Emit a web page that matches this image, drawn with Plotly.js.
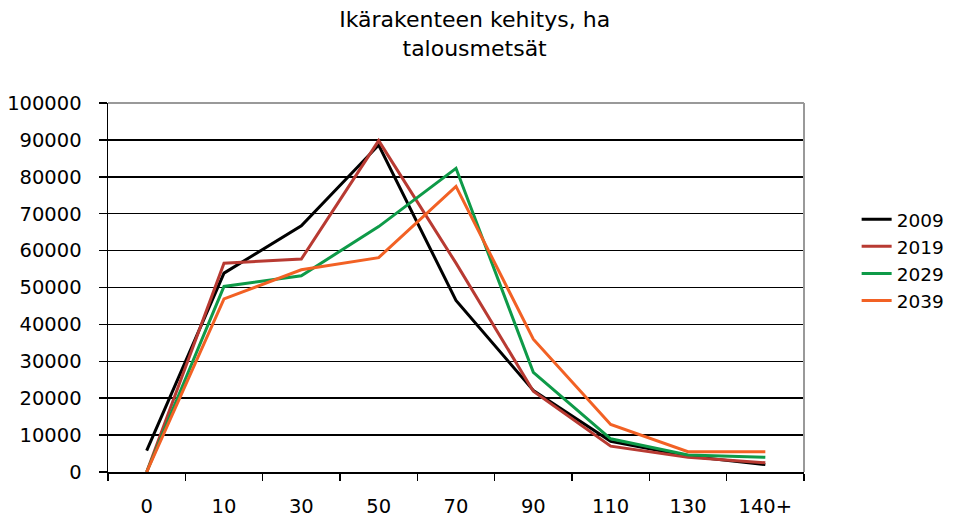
<!DOCTYPE html>
<html>
<head>
<meta charset="utf-8">
<script src="https://cdn.plot.ly/plotly-3.0.1.min.js"></script>
<style>html,body{margin:0;padding:0;background:#fff;}#chart{width:955px;height:519px;}</style>
</head>
<body>
<div id="chart"></div>
<script>
var categories = ["0", "10", "30", "50", "70", "90", "110", "130", "140+"];
var seriesNames = ["2009", "2019", "2029", "2039"];
var values2009 = [5800, 53900, 66700, 88600, 46500, 22100, 8300, 4300, 2000];
var values2019 = [0, 56600, 57700, 89800, 56600, 21900, 7000, 4000, 2500];
var values2029 = [0, 50300, 53200, 66500, 82300, 27000, 9000, 4600, 4000];
var values2039 = [0, 46900, 54800, 58100, 77400, 36000, 12900, 5500, 5500];
var seriesColors = ["#000000", "#B83A32", "#0E9A48", "#F26124"];
var yTicks = [0,10000,20000,30000,40000,50000,60000,70000,80000,90000,100000];

var allValues = [values2009, values2019, values2029, values2039];
var traces = allValues.map(function(v, i){
  return {x: categories, y: v, type: "scatter", mode: "lines", name: seriesNames[i],
          line: {color: seriesColors[i], width: 3}};
});

var FONT = "DejaVu Sans, Liberation Sans, Arial, sans-serif";
var layout = {
  width: 955, height: 519,
  margin: {l: 108, r: 151, t: 103, b: 47, pad: 0, autoexpand: false},
  paper_bgcolor: "#fff", plot_bgcolor: "#fff",
  font: {family: FONT, size: 19.5, color: "#000"},
  title: {text: "Ikärakenteen kehitys, ha<br>talousmetsät", x: 0.497, xanchor: "center",
          xref: "container", yref: "container", y: 0.948, yanchor: "middle",
          font: {family: FONT, size: 22, color: "#000"}},
  showlegend: true,
  legend: {x: 0.897, xref: "container", xanchor: "left", y: 0.735, yanchor: "top",
           font: {family: FONT, size: 18.5}, tracegroupgap: 0, bgcolor: "rgba(0,0,0,0)"},
  xaxis: {type: "category", range: [-0.5, 8.5], showgrid: false, showline: true,
          linecolor: "#000", linewidth: 1.5, ticks: "outside", ticklen: 7, tickcolor: "#000",
          tickwidth: 1.5, tickson: "boundaries", tickfont: {size: 19.5}, zeroline: false,
          ticklabelstandoff: 16, automargin: false},
  yaxis: {range: [0, 100000], tickvals: yTicks, ticktext: yTicks.map(String),
          showgrid: true, gridcolor: "#000", gridwidth: 1.5, showline: true,
          linecolor: "#000", linewidth: 1.5, ticks: "outside", ticklen: 8, tickcolor: "#000",
          tickwidth: 1.5, tickfont: {size: 19.5}, zeroline: false, ticklabelstandoff: 13,
          automargin: false},
  shapes: [
    {type: "line", xref: "paper", yref: "paper", x0: 0, x1: 1, y0: 1, y1: 1, line: {color: "#999", width: 2}},
    {type: "line", xref: "paper", yref: "paper", x0: 1, x1: 1, y0: 0, y1: 1, line: {color: "#999", width: 2}}
  ]
};
Plotly.newPlot("chart", traces, layout, {displayModeBar: false, staticPlot: true});
</script>
</body>
</html>
